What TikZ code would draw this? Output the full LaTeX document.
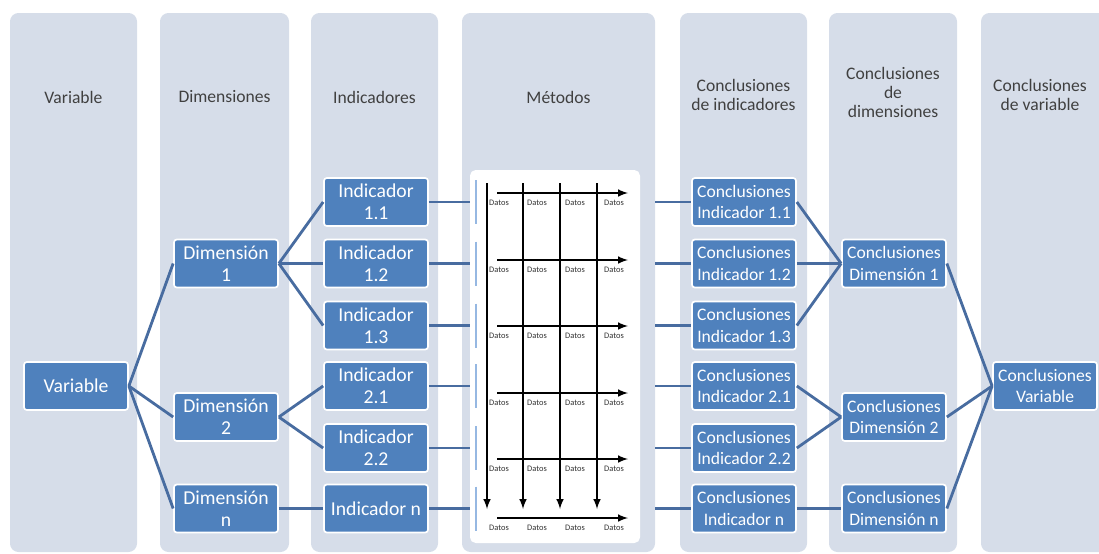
\documentclass[tikz,border=0pt]{standalone}
\usepackage{fontspec}
\setmainfont{Carlito}
\usetikzlibrary{arrows,positioning}

\definecolor{colfill}{RGB}{214,221,233}
\definecolor{boxfill}{RGB}{79,129,189}
\definecolor{linkcol}{RGB}{72,108,160}
\definecolor{dashcol}{RGB}{150,184,226}

\begin{document}
\begin{tikzpicture}[x=0.025cm,y=-0.025cm,
	column/.style={rectangle,rounded corners=6pt,fill=colfill,minimum height=539*0.025cm},
	head node/.style={text=black!75,align=center,font=\fontsize{12.5}{13.5}\selectfont},
	main node/.style={rectangle,rounded corners=2pt,fill=boxfill,draw=white,line width=1.2pt,text=white,align=center,inner sep=1pt,minimum width=104*0.025cm,minimum height=48*0.025cm,font=\fontsize{14}{15.5}\selectfont},
	concl node/.style={main node,font=\fontsize{12.5}{15}\selectfont},
	link/.style={-,linkcol,line width=2pt},
	data arrow/.style={-latex,black,line width=1.4pt},
	datos node/.style={inner sep=0pt,font=\fontsize{6}{6}\selectfont,text=black!80}
]

	\useasboundingbox (0,0) rectangle (1099,553);

	\def \top {13};
	\def \mid {282.5};

	\foreach \n/\cx/\w in {1/73.5/127,2/224.5/129,3/374.5/127,4/558.5/193,5/743.5/127,6/893/128,7/1045.5/129}
		\node[column,minimum width=\w*0.025cm] (col\n) at (\cx,\mid) {};

	\node[head node] (h1) at (73.5,97) {Variable};
	\node[head node] (h2) at (224.5,97) {Dimensiones};
	\node[head node] (h3) at (374.5,97) {Indicadores};
	\node[head node] (h4) at (558.5,97) {Métodos};
	\node[head node] (h5) at (743.5,95) {Conclusiones\\de indicadores};
	\node[head node] (h6) at (893,92) {Conclusiones\\de\\dimensiones};
	\node[head node] (h7) at (1040,95) {Conclusiones\\de variable};

	\node[main node] (var) at (76,386) {Variable};
	\node[main node] (dim1) at (226,263.5) {Dimensión\\1};
	\node[main node] (dim2) at (226,417) {Dimensión\\2};
	\node[main node] (dimn) at (226,508.5) {Dimensión\\n};

	\foreach \nm/\txt/\y in {i11/{Indicador\\1.1}/202,i12/{Indicador\\1.2}/263.5,i13/{Indicador\\1.3}/325.5,i21/{Indicador\\2.1}/386,i22/{Indicador\\2.2}/448,in/{Indicador n}/508.5}
		\node[main node] (\nm) at (376,\y) {\txt};

	\foreach \nm/\txt/\y in {c11/1.1/202,c12/1.2/263.5,c13/1.3/325.5,c21/2.1/386,c22/2.2/448,cn/n/508.5}
		\node[concl node] (\nm) at (744,\y) {Conclusiones\\Indicador \txt};

	\node[concl node] (cd1) at (894,263.5) {Conclusiones\\Dimensión 1};
	\node[concl node] (cd2) at (894,417) {Conclusiones\\Dimensión 2};
	\node[concl node] (cdn) at (894,508.5) {Conclusiones\\Dimensión n};
	\node[concl node] (cv) at (1045,386) {Conclusiones\\Variable};

	% panel de metodos
	\node[rectangle,rounded corners=4pt,fill=white,minimum width=170*0.025cm,minimum height=373*0.025cm] (met) at (555,356.5) {};

	\foreach \y in {202,263.5,325.5,386,448,508.5}
		\draw[dashcol,line width=1.6pt] (476,\y-22) -- (476,\y+22);

	\foreach \x in {487,523,560,597}
		\draw[data arrow] (\x,183) -- (\x,509);

	\foreach \y in {193,260,326,393,459,518} {
		\draw[data arrow] (497,\y) -- (628,\y);
		\foreach \x in {499,537,575,614}
			\node[datos node] (d-\y-\x) at (\x,\y+10) {Datos};
	}

	\draw[link] (var.east) -- (dim1.west);
	\draw[link] (var.east) -- (dim2.west);
	\draw[link] (var.east) -- (dimn.west);

	\foreach \t in {i11,i12,i13}
		\draw[link] (dim1.east) -- (\t.west);
	\foreach \t in {i21,i22}
		\draw[link] (dim2.east) -- (\t.west);
	\draw[link] (dimn.east) -- (in.west);

	\foreach \s/\t in {i11/c11,i12/c12,i13/c13,i21/c21,i22/c22,in/cn} {
		\draw[link] (\s.east) -- (\s.east -| met.west);
		\draw[link] (\t.west -| col4.east) -- (\t.west);
	}

	\foreach \s in {c11,c12,c13}
		\draw[link] (\s.east) -- (cd1.west);
	\foreach \s in {c21,c22}
		\draw[link] (\s.east) -- (cd2.west);
	\draw[link] (cn.east) -- (cdn.west);

	\foreach \s in {cd1,cd2,cdn}
		\draw[link] (\s.east) -- (cv.west);
\end{tikzpicture}
\end{document}
